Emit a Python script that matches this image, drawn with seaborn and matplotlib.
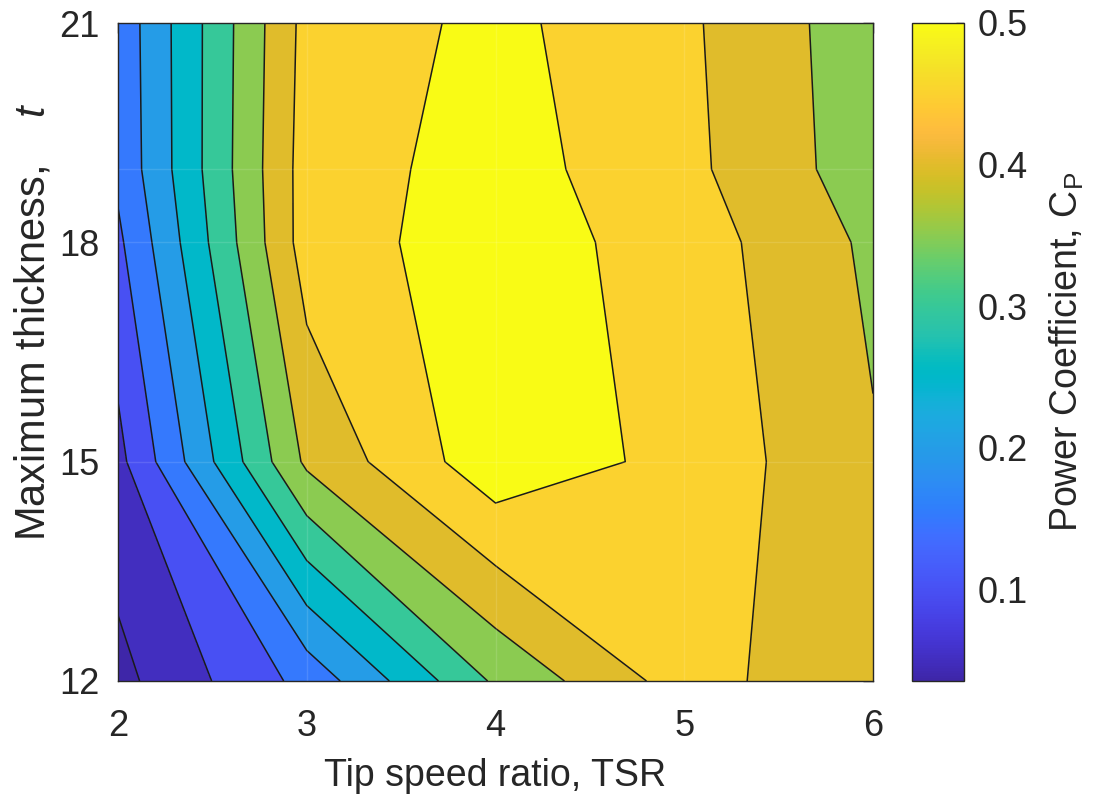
import numpy as np
import pandas as pd
import matplotlib
matplotlib.use("Agg")
import matplotlib.pyplot as plt
import seaborn as sns
from matplotlib.colors import LinearSegmentedColormap, Normalize
from matplotlib.cm import ScalarMappable

# data: CP on a TSR x thickness grid
tsr = [2, 3, 4, 5, 6]
thickness = [12, 15, 18, 19, 21]
cp_t12 = [0.035, 0.166, 0.358, 0.473, 0.404]
cp_t15 = [0.085, 0.410, 0.533, 0.485, 0.4045]
cp_t18 = [0.140, 0.474, 0.527, 0.476, 0.390]
cp_t19 = [0.161, 0.473, 0.522, 0.463, 0.373]
cp_t21 = [0.165, 0.467, 0.513, 0.459, 0.370]
levels = [0.05, 0.10, 0.15, 0.20, 0.25, 0.30, 0.35, 0.40, 0.45, 0.50]
cbar_ticks = [0.1, 0.2, 0.3, 0.4, 0.5]

df = pd.DataFrame([cp_t12, cp_t15, cp_t18, cp_t19, cp_t21], index=thickness, columns=tsr)

# MATLAB parula
parula_data = [
    [0.2422, 0.1504, 0.6603], [0.2504, 0.1650, 0.7076], [0.2578, 0.1818, 0.7511],
    [0.2647, 0.1978, 0.7952], [0.2706, 0.2147, 0.8364], [0.2751, 0.2342, 0.8710],
    [0.2783, 0.2559, 0.8991], [0.2803, 0.2782, 0.9221], [0.2813, 0.3006, 0.9414],
    [0.2810, 0.3228, 0.9579], [0.2795, 0.3447, 0.9717], [0.2760, 0.3667, 0.9829],
    [0.2699, 0.3892, 0.9906], [0.2602, 0.4123, 0.9952], [0.2440, 0.4358, 0.9988],
    [0.2206, 0.4603, 0.9973], [0.1963, 0.4847, 0.9892], [0.1834, 0.5074, 0.9798],
    [0.1786, 0.5289, 0.9682], [0.1764, 0.5499, 0.9520], [0.1687, 0.5703, 0.9359],
    [0.1540, 0.5902, 0.9218], [0.1460, 0.6091, 0.9079], [0.1380, 0.6276, 0.8973],
    [0.1248, 0.6459, 0.8883], [0.1113, 0.6635, 0.8763], [0.0952, 0.6798, 0.8598],
    [0.0689, 0.6948, 0.8394], [0.0297, 0.7082, 0.8163], [0.0036, 0.7203, 0.7917],
    [0.0067, 0.7312, 0.7660], [0.0433, 0.7411, 0.7394], [0.0964, 0.7500, 0.7120],
    [0.1408, 0.7584, 0.6842], [0.1717, 0.7670, 0.6554], [0.1938, 0.7758, 0.6251],
    [0.2161, 0.7843, 0.5923], [0.2470, 0.7918, 0.5567], [0.2906, 0.7973, 0.5188],
    [0.3406, 0.8008, 0.4789], [0.3909, 0.8029, 0.4354], [0.4456, 0.8024, 0.3909],
    [0.5044, 0.7993, 0.3480], [0.5616, 0.7942, 0.3045], [0.6174, 0.7876, 0.2612],
    [0.6720, 0.7793, 0.2227], [0.7242, 0.7698, 0.1910], [0.7738, 0.7598, 0.1646],
    [0.8203, 0.7498, 0.1535], [0.8634, 0.7406, 0.1596], [0.9035, 0.7330, 0.1774],
    [0.9393, 0.7288, 0.2100], [0.9728, 0.7298, 0.2394], [0.9956, 0.7434, 0.2371],
    [0.9970, 0.7659, 0.2199], [0.9952, 0.7893, 0.2028], [0.9892, 0.8136, 0.1885],
    [0.9786, 0.8386, 0.1766], [0.9676, 0.8639, 0.1643], [0.9610, 0.8890, 0.1537],
    [0.9597, 0.9135, 0.1423], [0.9628, 0.9373, 0.1265], [0.9691, 0.9606, 0.1064],
    [0.9769, 0.9839, 0.0805]]
parula = LinearSegmentedColormap.from_list("parula", parula_data, N=256)

sns.set_theme(style="white")
plt.rcParams["font.family"] = ["Liberation Sans", "DejaVu Sans"]
plt.rcParams["mathtext.fontset"] = "custom"
plt.rcParams["mathtext.rm"] = "Liberation Sans"
plt.rcParams["mathtext.it"] = "Liberation Sans:italic"
txt = "#262626"

fig = plt.figure(figsize=(10.98, 8), dpi=100)
ax = fig.add_axes([118 / 1098, 119 / 800, 755 / 1098, 658 / 800])
cax = fig.add_axes([912 / 1098, 119 / 800, 52 / 1098, 658 / 800])

X, Y = np.meshgrid(df.columns.values, df.index.values)
Z = df.values
zmin, zmax = Z.min(), Z.max()
norm = Normalize(vmin=zmin, vmax=0.5)

# MATLAB style: each band takes the colour of its lower level
fill_levels = [zmin - 1e-3] + levels + [zmax + 1e-3]
band_colors = [parula(norm(zmin))] + [parula(norm(l)) for l in levels]
ax.contourf(X, Y, Z, levels=fill_levels, colors=band_colors)
ax.contour(X, Y, Z, levels=levels, colors="k", linewidths=1.1)

# faint seams along the data grid
for yv in thickness[1:-1]:
    ax.axhline(yv, color="white", alpha=0.12, lw=1)
for xv in tsr[1:-1]:
    ax.axvline(xv, color="white", alpha=0.12, lw=1)

ax.set_xlim(2, 6)
ax.set_ylim(12, 21)
ax.set_xticks(tsr)
ax.set_yticks([12, 15, 18, 21])
ax.tick_params(direction="in", length=7, width=1, top=True, right=True,
               labelsize=26, colors=txt)
ax.tick_params(axis="x", pad=20)
ax.tick_params(axis="y", pad=13)
for s in ax.spines.values():
    s.set_color(txt)
    s.set_linewidth(1)
ax.set_xlabel("Tip speed ratio, TSR", fontsize=27, color=txt, labelpad=10)
ax.set_ylabel("Maximum thickness,    $t$", fontsize=30, color=txt)
ax.yaxis.set_label_coords(-0.085, 0.546)

cb = fig.colorbar(ScalarMappable(norm=norm, cmap=parula), cax=cax)
cb.set_ticks(cbar_ticks)
cb.set_ticklabels([f"{t:.1f}" for t in cbar_ticks])
cax.tick_params(direction="in", length=6, width=1, labelsize=26, colors=txt, pad=10)
cb.outline.set_edgecolor(txt)
cb.outline.set_linewidth(1)
cb.set_label("Power Coefficient, C$_\\mathregular{P}$", fontsize=27, color=txt, labelpad=14)

fig.savefig("out.png", dpi=100)
